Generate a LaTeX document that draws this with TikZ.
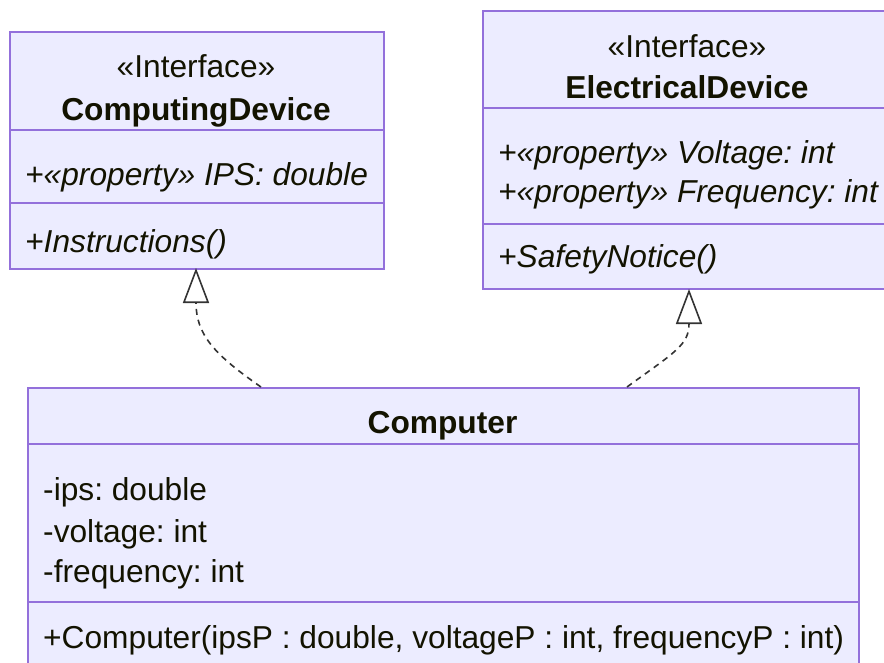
\documentclass[tikz,border=0pt]{standalone}
\usepackage{fontspec}
\setmainfont{Liberation Sans}
\usetikzlibrary{arrows.meta}
\definecolor{boxfill}{HTML}{ECECFF}
\definecolor{boxline}{HTML}{9370DB}
\definecolor{txt}{HTML}{131300}
\definecolor{edge}{HTML}{333333}
\frenchspacing
\tikzset{
  umlbox/.style={draw=boxline, fill=boxfill, line width=1.8pt, rectangle, inner sep=0pt, anchor=north west},
  divider/.style={draw=boxline, line width=1.8pt},
  lbl/.style={text=txt, inner sep=0pt, font=\fontsize{31.7}{42}\selectfont},
  realize/.style={draw=edge, line width=1.6pt, dash pattern=on 6pt off 5pt,
    -{Triangle[open, length=35pt, width=26pt, line width=1.6pt]}},
}
\begin{document}
\begin{tikzpicture}[x=1pt,y=1pt]
\useasboundingbox (0,0) rectangle (884,-662);
\clip (0,0) rectangle (884,-662);
% boxes
\node[umlbox, minimum width=374pt, minimum height=237pt] (cd) at (9,-31) {};
\node[umlbox, minimum width=410pt, minimum height=278pt] (ed) at (482,-10) {};
\node[umlbox, minimum width=831pt, minimum height=300pt] (comp) at (27,-387) {};
% dividers
\draw[divider] (cd.west |- 0,-130) -- (cd.east |- 0,-130);
\draw[divider] (cd.west |- 0,-203) -- (cd.east |- 0,-203);
\draw[divider] (ed.west |- 0,-108) -- (ed.east |- 0,-108);
\draw[divider] (ed.west |- 0,-224) -- (ed.east |- 0,-224);
\draw[divider] (comp.west |- 0,-444) -- (comp.east |- 0,-444);
\draw[divider] (comp.west |- 0,-602) -- (comp.east |- 0,-602);
% ComputingDevice
\node[lbl, anchor=base] (cds) at (196,-77) {«Interface»};
\node[lbl, anchor=base] (cdn) at (196,-120) {\bfseries ComputingDevice};
\node[lbl, anchor=base west] (cda) at (25,-185) {\itshape +«property» IPS: double};
\node[lbl, anchor=base west] (cdm) at (25,-252) {\itshape +Instructions()};
% ElectricalDevice
\node[lbl, anchor=base] (eds) at (687,-57) {«Interface»};
\node[lbl, anchor=base] (edn) at (687,-98) {\bfseries ElectricalDevice};
\node[lbl, anchor=base west] (eda) at (498,-163) {\itshape +«property» Voltage: int};
\node[lbl, anchor=base west] (edb) at (498,-202) {\itshape +«property» Frequency: int};
\node[lbl, anchor=base west] (edm) at (498,-267) {\itshape +SafetyNotice()};
% Computer
\node[lbl, anchor=base] (cpn) at (442.5,-433) {\bfseries Computer};
\node[lbl, anchor=base west] (cpa) at (43,-500) {-ips: double};
\node[lbl, anchor=base west] (cpb) at (43,-542) {-voltage: int};
\node[lbl, anchor=base west] (cpc) at (43,-582) {-frequency: int};
\node[lbl, anchor=base west] (cpm) at (43,-648) {+Computer(ipsP : double, voltageP : int, frequencyP : int)};
% connectors
\coordinate (s1) at (261,-387);
\coordinate (t1) at (196,-268);
\coordinate (s2) at (627,-387);
\coordinate (t2) at (689,-289);
\draw[realize] (s1) .. controls (215,-355) and (196,-335) .. (t1);
\draw[realize] (s2) .. controls (675,-352) and (689,-345) .. (t2);
\end{tikzpicture}
\end{document}
